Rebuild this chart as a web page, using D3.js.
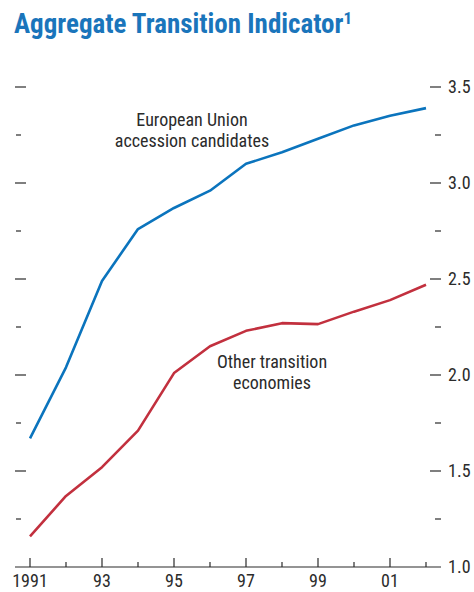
<!DOCTYPE html>
<html>
<head>
<meta charset="utf-8">
<script src="https://cdn.jsdelivr.net/npm/d3@7"></script>
<style>
  html, body { margin: 0; padding: 0; background: #fff; }
  svg { display: block; }
  text { font-family: "Liberation Sans Narrow", "Arial Narrow", "Roboto Condensed", "Liberation Sans", sans-serif; }
</style>
</head>
<body>
<svg id="chart" width="474" height="592"></svg>
<script>
// Aggregate transition indicator by country group, 1991–2002
const years = [1991, 1992, 1993, 1994, 1995, 1996, 1997, 1998, 1999, 2000, 2001, 2002];
const euCandidates = [1.67, 2.04, 2.49, 2.76, 2.87, 2.96, 3.10, 3.16, 3.23, 3.30, 3.35, 3.39];
const otherEconomies = [1.16, 1.37, 1.52, 1.71, 2.01, 2.15, 2.23, 2.27, 2.265, 2.33, 2.39, 2.47];
const yearLabels = ["1991", "93", "95", "97", "99", "01"];
const labelYears = [1991, 1993, 1995, 1997, 1999, 2001];
const majorTicks = [1.0, 1.5, 2.0, 2.5, 3.0, 3.5];
const minorTicks = [1.25, 1.75, 2.25, 2.75, 3.25];
const tickLabels = ["1.0", "1.5", "2.0", "2.5", "3.0", "3.5"];

const blue = "#0b74bd";
const red = "#c2303e";
const ink = "#2b2b2b";

const svg = d3.select("#chart");

const x = d3.scaleLinear().domain([1991, 2002]).range([30, 426]);
const y = d3.scaleLinear().domain([1, 3.5]).range([567, 87]);

// Title
const title = svg.append("text")
  .attr("x", 14).attr("y", 33)
  .attr("fill", "#1a75bb")
  .style("font-weight", "bold")
  .style("font-size", "27px");
title.append("tspan").text("Aggregate Transition Indicator");
title.append("tspan").text("1")
  .attr("dy", -9)
  .style("font-size", "17px");

// Baseline axis
svg.append("line")
  .attr("x1", 15).attr("x2", 441)
  .attr("y1", y(1)).attr("y2", y(1))
  .attr("stroke", ink).attr("stroke-width", 1.2);

// Year ticks (pointing up from the baseline)
svg.append("g").selectAll("line")
  .data(years)
  .join("line")
  .attr("x1", d => x(d)).attr("x2", d => x(d))
  .attr("y1", y(1))
  .attr("y2", d => labelYears.includes(d) ? y(1) - 9 : y(1) - 5)
  .attr("stroke", ink).attr("stroke-width", 1.2);

svg.append("g").selectAll("text")
  .data(labelYears)
  .join("text")
  .attr("x", d => x(d))
  .attr("y", 587)
  .attr("text-anchor", "middle")
  .attr("fill", ink)
  .style("font-size", "18px")
  .text((d, i) => yearLabels[i]);

// Left-side tick marks (no labels)
svg.append("g").selectAll("line")
  .data(majorTicks.filter(d => d > 1))
  .join("line")
  .attr("x1", 15).attr("x2", 26)
  .attr("y1", d => y(d)).attr("y2", d => y(d))
  .attr("stroke", ink).attr("stroke-width", 1.2);
svg.append("g").selectAll("line")
  .data(minorTicks)
  .join("line")
  .attr("x1", 16).attr("x2", 21)
  .attr("y1", d => y(d)).attr("y2", d => y(d))
  .attr("stroke", ink).attr("stroke-width", 1.2);

// Right-side ticks and labels
svg.append("g").selectAll("line")
  .data(majorTicks.filter(d => d > 1))
  .join("line")
  .attr("x1", 430).attr("x2", 441)
  .attr("y1", d => y(d)).attr("y2", d => y(d))
  .attr("stroke", ink).attr("stroke-width", 1.2);
svg.append("g").selectAll("line")
  .data(minorTicks)
  .join("line")
  .attr("x1", 435).attr("x2", 441)
  .attr("y1", d => y(d)).attr("y2", d => y(d))
  .attr("stroke", ink).attr("stroke-width", 1.2);
svg.append("g").selectAll("text")
  .data(majorTicks)
  .join("text")
  .attr("x", 448)
  .attr("y", d => y(d))
  .attr("dy", "0.36em")
  .attr("fill", ink)
  .style("font-size", "18px")
  .text((d, i) => tickLabels[i]);

// Series lines
const line = d3.line()
  .x((d, i) => x(years[i]))
  .y(d => y(d));

svg.append("path")
  .datum(euCandidates)
  .attr("fill", "none")
  .attr("stroke", blue)
  .attr("stroke-width", 2.6)
  .attr("stroke-linejoin", "round")
  .attr("d", line);

svg.append("path")
  .datum(otherEconomies)
  .attr("fill", "none")
  .attr("stroke", red)
  .attr("stroke-width", 2.6)
  .attr("stroke-linejoin", "round")
  .attr("d", line);

// Series annotations
function annotate(lines, cx, baseY) {
  const t = svg.append("text")
    .attr("text-anchor", "middle")
    .attr("fill", ink)
    .style("font-size", "18px");
  lines.forEach((s, i) => {
    t.append("tspan").attr("x", cx).attr("y", baseY + i * 21).text(s);
  });
}
annotate(["European Union", "accession candidates"], 192, 126);
annotate(["Other transition", "economies"], 272, 368);
</script>
</body>
</html>
